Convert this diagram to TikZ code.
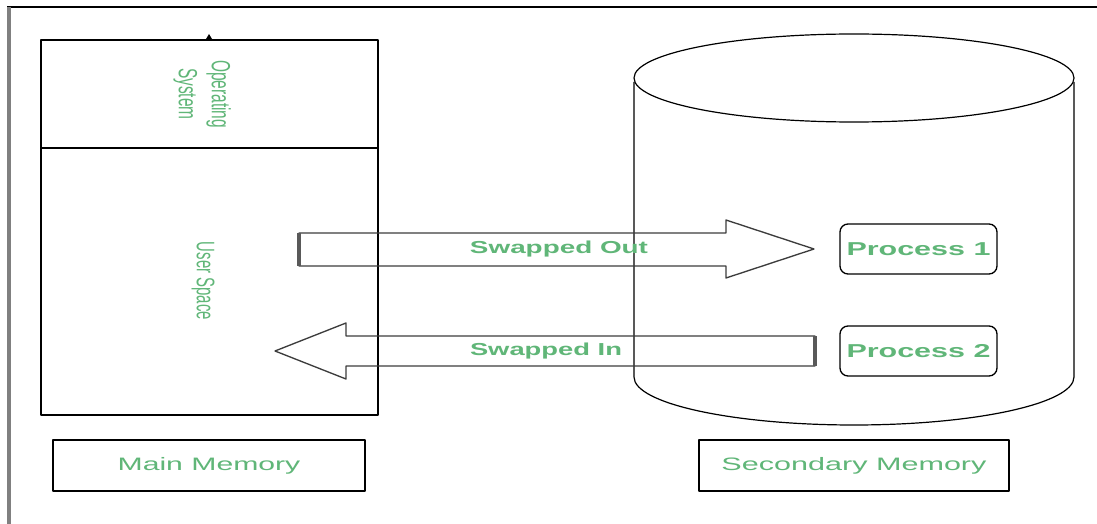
\documentclass[tikz,border=0pt]{standalone}
\usepackage{fontspec}
\setmainfont{Liberation Sans}
\usepackage{graphicx}
\definecolor{txtgreen}{RGB}{96,182,120}
\definecolor{edgegray}{RGB}{60,60,60}
\newcommand{\wtxt}[3]{\resizebox{#1}{\height}{\fontsize{#2}{#2}\selectfont #3}}
\begin{document}
\begin{tikzpicture}[x=0.75pt,y=-0.75pt,line join=round,
  frame/.style={draw=black,line width=1.3pt,inner sep=0pt},
  labelbox/.style={draw=black,line width=1.1pt,inner sep=0pt,minimum height=38.25pt},
  txt/.style={text=txtgreen,inner sep=0pt},
  procbox/.style={draw=black,line width=1pt,rounded corners=6pt,minimum width=117.75pt,minimum height=37.5pt,inner sep=0pt,text=txtgreen},
  blockarrow/.style={draw=edgegray,line width=1pt},
  arrowend/.style={draw=gray!70!black,line width=2.4pt},
  cyl/.style={draw=black,line width=0.9pt}]
\useasboundingbox (0,0) rectangle (1097,524);
\fill[white] (0,0) rectangle (1097,524);
% page border
\draw[line width=1.5pt] (7,7) -- (1097,7);
\draw[gray,line width=3pt] (9,7) -- (9,524);
% main memory
\node[frame,minimum width=252.75pt,minimum height=81pt,anchor=north west] (os) at (40,39) {};
\node[frame,minimum width=252.75pt,minimum height=200.25pt,anchor=north west] (user) at (40,147) {};
\fill (206,39) -- (209,34) -- (212,39) -- cycle;
\node[txt,rotate=-90] (ostext) at (202,94) {\scalebox{1}[1.7]{\fontsize{11.6}{14.5}\selectfont\begin{tabular}{@{}c@{}}Operating\\System\end{tabular}}};
\node[txt,rotate=-90] (ustext) at (203,281) {\scalebox{1}[1.7]{\fontsize{11.2}{14}\selectfont User Space}};
% secondary memory cylinder
\draw[cyl] (854,78) ellipse [x radius=220, y radius=44];
\draw[cyl] (634,82) -- (634,377) .. controls (634,403.5) and (732.6,425) .. (854,425) .. controls (975.4,425) and (1074,403.5) .. (1074,377) -- (1074,82);
\node[procbox] (p1) at (918.5,249) {\wtxt{108pt}{14}{\bfseries Process 1}};
\node[procbox] (p2) at (918.5,351) {\wtxt{108pt}{14}{\bfseries Process 2}};
% block arrows
\draw[blockarrow] (299,233) -- (726,233) -- (726,220) -- (814,249) -- (726,278) -- (726,266) -- (299,266) -- cycle;
\draw[arrowend] (299,233) -- (299,266);
\draw[blockarrow] (815,336) -- (346,336) -- (346,323) -- (275,351) -- (346,379) -- (346,366) -- (815,366) -- cycle;
\draw[arrowend] (815,336) -- (815,366);
\node[txt] (outtext) at (559,249) {\wtxt{133.5pt}{13}{\bfseries Swapped Out}};
\node[txt] (intext) at (546,351) {\wtxt{114pt}{13}{\bfseries Swapped In}};
% labels
\node[labelbox,minimum width=234pt] (mmlabel) at (209,465.5) {};
\node[txt] at (mmlabel.center) {\wtxt{137pt}{13.5}{Main Memory}};
\node[labelbox,minimum width=232.5pt] (smlabel) at (854,465.5) {};
\node[txt] at (smlabel.center) {\wtxt{198.75pt}{13.5}{Secondary Memory}};
\end{tikzpicture}
\end{document}
